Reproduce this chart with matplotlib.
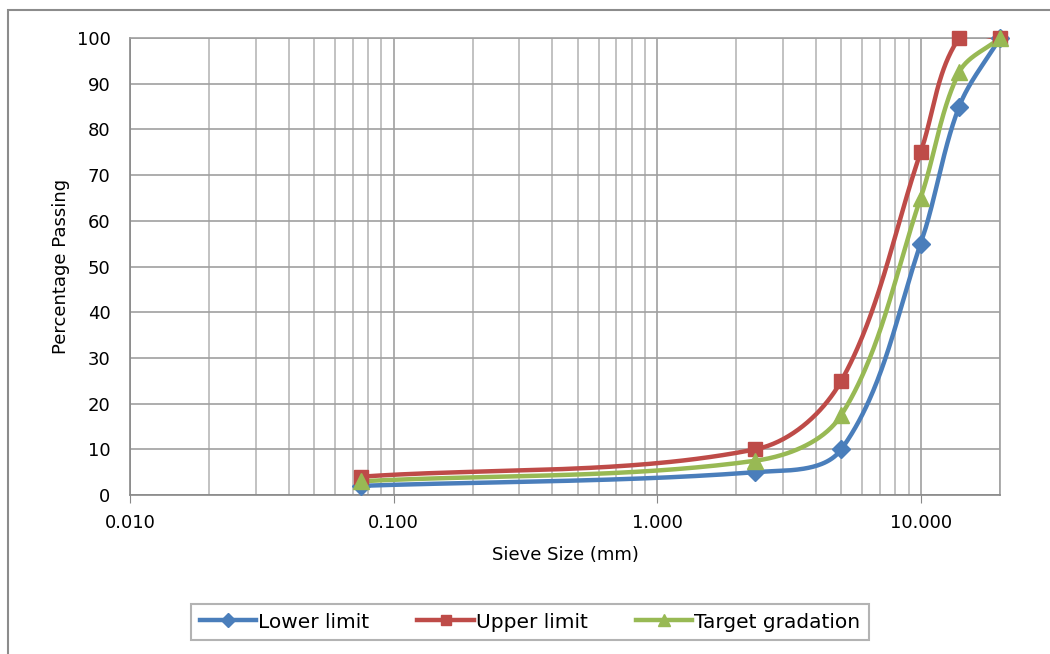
import numpy as np
import matplotlib.pyplot as plt
from matplotlib.patches import Rectangle

# Sieve sizes (mm) and percentage passing
sieve = [0.075, 2.36, 5.0, 10.0, 14.0, 20.0]
lower = [2, 5, 10, 55, 85, 100]
upper = [4, 10, 25, 75, 100, 100]
target = [3, 7.5, 17.5, 65, 92.5, 100]

series = [
    ("Lower limit", lower, "#4a7ebb", "D", 9),
    ("Upper limit", upper, "#be4b48", "s", 10.5),
    ("Target gradation", target, "#98b954", "^", 12),
]

# rough pixel scale of the plot area, used so the smoothing works in screen units
PX_DECADE = 264.0
PX_UNIT = 4.57


def smooth(xs, ys, n=60, k=0.33):
    # bezier through the points with tangents from neighbours,
    # handle length proportional to the segment length
    u = np.log10(xs) * PX_DECADE
    v = np.asarray(ys, dtype=float) * PX_UNIT
    pts = np.column_stack([u, v])
    m = len(pts)
    tang = []
    for i in range(m):
        a = pts[max(i - 1, 0)]
        b = pts[min(i + 1, m - 1)]
        d = b - a
        tang.append(d / np.linalg.norm(d))
    out = []
    for i in range(m - 1):
        p1, p2 = pts[i], pts[i + 1]
        L = np.linalg.norm(p2 - p1)
        c1 = p1 + tang[i] * L * k
        c2 = p2 - tang[i + 1] * L * k
        t = np.linspace(0, 1, n)[:, None]
        seg = ((1 - t) ** 3) * p1 + 3 * ((1 - t) ** 2) * t * c1 + 3 * (1 - t) * t ** 2 * c2 + t ** 3 * p2
        out.append(seg)
    seg = np.vstack(out)
    return 10 ** (seg[:, 0] / PX_DECADE), seg[:, 1] / PX_UNIT


plt.rcParams['font.family'] = ['DejaVu Sans']
fig = plt.figure(figsize=(10.5, 6.54), dpi=100)
ax = fig.add_axes([130 / 1050, 1 - 495 / 654, 870 / 1050, 457 / 654])

# outer chart border
fig.patches.append(Rectangle((8 / 1050, -0.01), 1.0, 1 - 10 / 654 + 0.01, transform=fig.transFigure,
                             fill=False, edgecolor="#8c8c8c", linewidth=1.5))

for label, vals, col, mk, ms in series:
    sx, sy = smooth(sieve, vals)
    ax.plot(sx, sy, color=col, linewidth=3.2, solid_capstyle="round", zorder=3)
    ax.plot(sieve, vals, linestyle="none", marker=mk, color=col, markersize=ms, zorder=4, clip_on=False)

ax.set_xscale("log")
ax.set_xlim(0.01, 20)
ax.set_ylim(0, 100)
ax.set_yticks(range(0, 101, 10))
ax.set_xticks([0.01, 0.1, 1, 10])
ax.set_xticklabels(["0.010", "0.100", "1.000", "10.000"])
ax.grid(True, which="major", color="#a0a0a0", linewidth=1.2)
ax.grid(True, which="minor", axis="x", color="#b8b8b8", linewidth=1.2)
ax.set_axisbelow(True)
for s in ax.spines.values():
    s.set_color("#a0a0a0")
    s.set_linewidth(1.2)
ax.spines["bottom"].set_color("#888888")
ax.spines["left"].set_color("#888888")
ax.tick_params(axis="x", which="major", length=6, color="#888888", labelsize=13, pad=8)
ax.tick_params(axis="x", which="minor", length=0)
ax.tick_params(axis="y", length=0, labelsize=13, pad=14)

ax.set_xlabel("Sieve Size (mm)", fontsize=13, labelpad=10)
ax.set_ylabel("Percentage Passing", fontsize=13, labelpad=5)

handles = [plt.Line2D([], [], color=c, marker=m, markersize=ms * 0.75, linewidth=3.2)
           for _, _, c, m, ms in series]
leg = fig.legend(handles, [s[0] for s in series], loc="center", ncol=3,
                 bbox_to_anchor=(530 / 1050, 1 - 622 / 654), fontsize=14.5, frameon=True,
                 fancybox=False, edgecolor="#a0a0a0", handlelength=2.8, handletextpad=0.1,
                 columnspacing=2.4, borderpad=0.4, borderaxespad=0)
leg.get_frame().set_linewidth(1.5)

fig.savefig("out.png", dpi=100)
